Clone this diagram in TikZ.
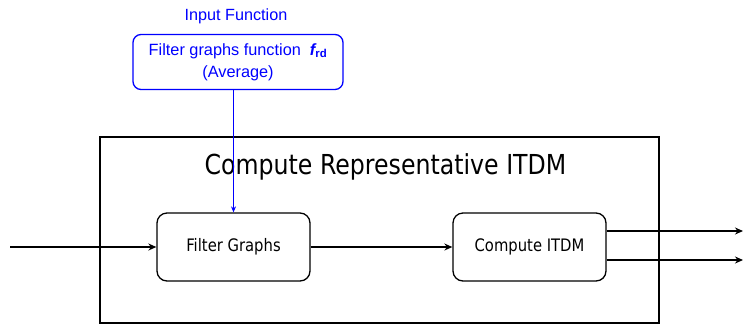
\documentclass[tikz,border=0pt]{standalone}
\usepackage{fontspec}
\setmainfont{Liberation Sans}
\newfontfamily\boxfont[FakeStretch=0.86]{DejaVu Sans}
\usetikzlibrary{arrows.meta}
\begin{document}
\begin{tikzpicture}[x=1pt,y=-1pt,
  stage/.style={draw, line width=1.3pt, rounded corners=10pt,
    minimum width=153pt, minimum height=68pt, inner sep=0pt,
    font=\boxfont\fontsize{17.2}{20}\selectfont},
  flow/.style={line width=1.3pt, -{Stealth[length=8pt,width=7pt]}},
  infunc/.style={draw=blue, text=blue, line width=1.3pt, rounded corners=8pt,
    minimum width=210pt, minimum height=55pt, inner sep=0pt, align=center,
    font=\fontsize{16.3}{22}\selectfont},
  feed/.style={blue, line width=0.8pt, -{Stealth[length=6pt,width=5pt]}}]
\useasboundingbox (0,0) rectangle (743,325);

% enclosing block
\node[draw, line width=1.3pt, minimum width=559pt, minimum height=186pt,
  inner sep=0pt] (block) at (379.5,230) {};
\node[font=\boxfont\fontsize{27.5}{30}\selectfont] (title) at (385.5,167)
  {Compute Representative ITDM};

% stages
\node[stage] (fg) at (233.5,247) {Filter Graphs};
\node[stage] (cit) at (529.5,247) {Compute ITDM};

% input function
\node[text=blue, font=\fontsize{16.2}{18}\selectfont] (inlabel) at (236,16)
  {Input Function};
\node[infunc] (fn) at (238,62)
  {Filter graphs function\hspace{0.55em}{\bfseries\itshape f}\textsubscript{\bfseries rd}\\(Average)};

% connectors
\coordinate (in) at (10,247);
\coordinate (out1) at (743,231);
\coordinate (out2) at (743,260);
\draw[flow] (in) -- (fg.west);
\draw[flow] (fg.east) -- (cit.west);
\draw[flow] (cit.east |- out1) -- (out1);
\draw[flow] (cit.east |- out2) -- (out2);
\draw[feed] (fg.north |- fn.south) -- (fg.north);
\end{tikzpicture}
\end{document}
